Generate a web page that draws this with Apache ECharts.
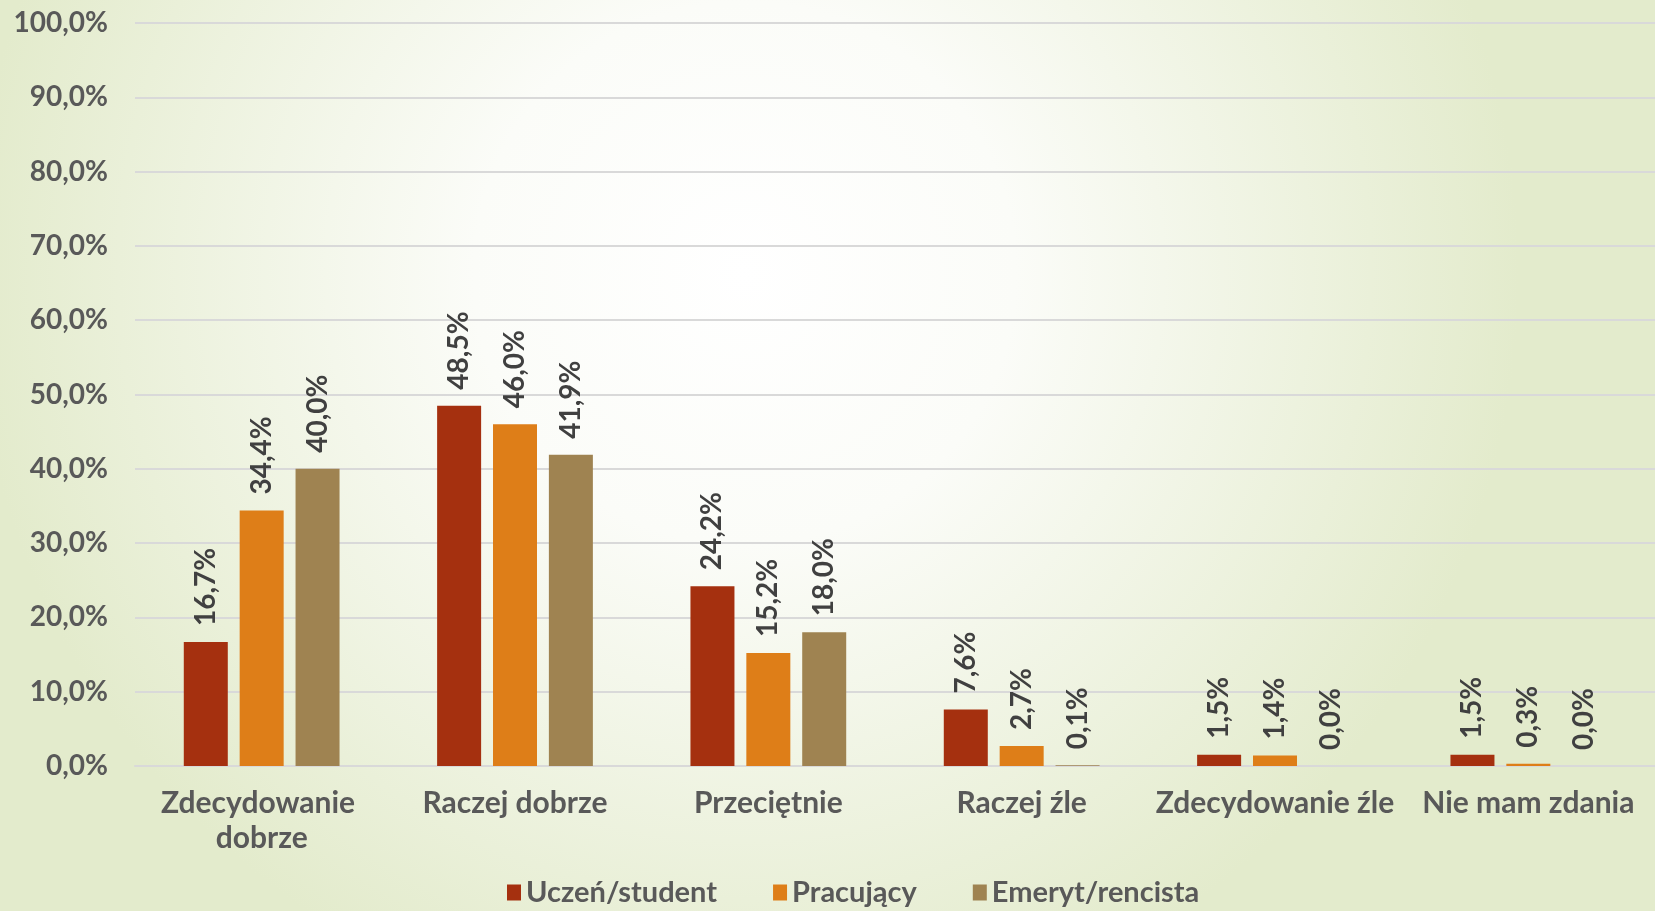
<!DOCTYPE html>
<html>
<head>
<meta charset="utf-8">
<script src="https://cdn.jsdelivr.net/npm/echarts@6/dist/echarts.min.js"></script>
<style>
html,body{margin:0;padding:0;width:1655px;height:911px;overflow:hidden;}
#chart{width:1655px;height:911px;}
</style>
</head>
<body>
<div id="chart"></div>
<script>
const categories = ['Zdecydowanie dobrze', 'Raczej dobrze', 'Przeciętnie', 'Raczej źle', 'Zdecydowanie źle', 'Nie mam zdania'];
const seriesNames = ['Uczeń/student', 'Pracujący', 'Emeryt/rencista'];
const uczen = [16.7, 48.5, 24.2, 7.6, 1.5, 1.5];
const pracujacy = [34.4, 46.0, 15.2, 2.7, 1.4, 0.3];
const emeryt = [40.0, 41.9, 18.0, 0.1, 0.0, 0.0];
const colors = ['#A5300F', '#DE7E18', '#9F8351'];

const fmt = v => v.toFixed(1).replace('.', ',') + '%';
const font = 'Lato, "Noto Sans", sans-serif';

function mk(name, data, color) {
  return {
    name: name,
    type: 'bar',
    data: data,
    barWidth: 44,
    barGap: '27%',
    itemStyle: { color: color },
    label: {
      show: true,
      position: 'top',
      rotate: 90,
      align: 'left',
      verticalAlign: 'middle',
      distance: 16,
      formatter: p => fmt(p.value),
      color: '#404040',
      fontFamily: font,
      fontWeight: 'bold',
      fontSize: 28
    }
  };
}

const chart = echarts.init(document.getElementById('chart'));
chart.setOption({
  backgroundColor: {
    type: 'radial', x: 0.45, y: 0.3, r: 0.85,
    colorStops: [
      { offset: 0, color: '#ffffff' },
      { offset: 0.35, color: '#fbfcf8' },
      { offset: 1, color: '#e3ebcc' }
    ]
  },
  animation: false,
  grid: { left: 135, right: 0, top: 23, bottom: 145, containLabel: false, outerBoundsMode: 'none' },
  legend: {
    top: 873,
    left: 502,
    itemWidth: 14,
    itemHeight: 16,
    itemGap: 56,
    icon: 'rect',
    textStyle: { color: '#595959', fontFamily: font, fontWeight: 'bold', fontSize: 29 },
    data: seriesNames
  },
  xAxis: {
    type: 'category',
    data: categories,
    axisLine: { show: true, lineStyle: { color: '#d9d9d9', width: 2 } },
    axisTick: { show: false },
    axisLabel: {
      interval: 0,
      margin: 20,
      color: '#595959',
      fontFamily: font,
      fontWeight: 'bold',
      fontSize: 30,
      lineHeight: 35,
      width: 270,
      overflow: 'break',
      hideOverlap: false
    }
  },
  yAxis: {
    type: 'value',
    min: 0, max: 100, interval: 10,
    axisLine: { show: false },
    axisTick: { show: false },
    splitLine: { lineStyle: { color: '#d9d9d9', width: 2 } },
    axisLabel: {
      formatter: v => fmt(v),
      margin: 27,
      color: '#595959',
      fontFamily: font,
      fontWeight: 'bold',
      fontSize: 28
    }
  },
  series: [
    mk(seriesNames[0], uczen, colors[0]),
    mk(seriesNames[1], pracujacy, colors[1]),
    mk(seriesNames[2], emeryt, colors[2])
  ]
});
</script>
</body>
</html>
